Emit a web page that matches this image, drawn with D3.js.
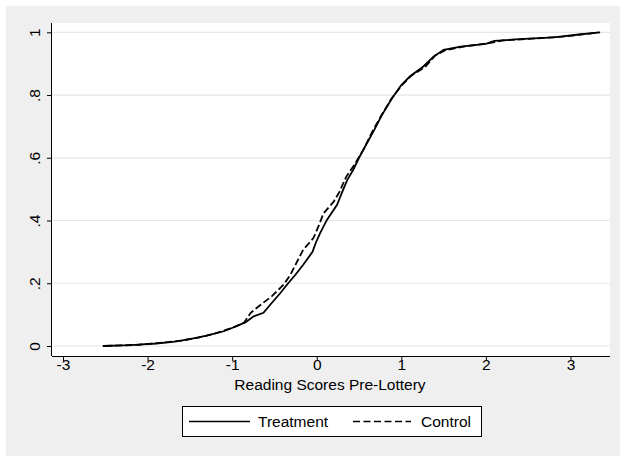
<!DOCTYPE html>
<html lang="en">
<head>
<meta charset="UTF-8">
<title>CDF of Reading Scores Pre-Lottery</title>
<script src="https://d3js.org/d3.v7.min.js"></script>
<style>
    body { margin: 0; background: #fff; }
    svg { display: block; font-family: "Liberation Sans", Arial, sans-serif; }
</style>
</head>
<body>
<svg width="620" height="456"></svg>
<script>
    const treatX = [-2.53, -2.2, -1.9, -1.7, -1.5, -1.3, -1.1, -0.95, -0.84, -0.75, -0.63, -0.53, -0.43, -0.35, -0.25, -0.16, -0.05, -0.01, 0.04, 0.12, 0.24, 0.31, 0.36, 0.43, 0.5, 0.58, 0.68, 0.77, 0.89, 1.0, 1.1, 1.26, 1.38, 1.5, 1.7, 2.0, 2.1, 2.4, 2.8, 3.1, 3.35];
    const treatY = [0, 0.003, 0.008, 0.013, 0.022, 0.033, 0.047, 0.063, 0.076, 0.094, 0.106, 0.138, 0.169, 0.196, 0.228, 0.259, 0.3, 0.33, 0.36, 0.402, 0.45, 0.497, 0.529, 0.561, 0.6, 0.64, 0.689, 0.736, 0.79, 0.832, 0.859, 0.891, 0.922, 0.944, 0.954, 0.963, 0.973, 0.978, 0.984, 0.993, 1.0];

    const ctrlX = [-2.5, -2.1, -1.85, -1.6, -1.4, -1.2, -1.0, -0.86, -0.78, -0.67, -0.53, -0.39, -0.31, -0.24, -0.16, -0.04, 0.02, 0.08, 0.2, 0.27, 0.33, 0.35, 0.45, 0.55, 0.66, 0.76, 0.88, 1.0, 1.12, 1.28, 1.4, 1.52, 1.75, 2.05, 2.2, 2.5, 2.9, 3.2, 3.33];
    const ctrlY = [0, 0.004, 0.01, 0.017, 0.027, 0.04, 0.058, 0.074, 0.106, 0.13, 0.159, 0.196, 0.228, 0.265, 0.307, 0.344, 0.381, 0.423, 0.46, 0.492, 0.529, 0.54, 0.58, 0.625, 0.685, 0.733, 0.787, 0.83, 0.862, 0.889, 0.926, 0.943, 0.955, 0.966, 0.974, 0.979, 0.986, 0.995, 1.0];

    const xTicks = [-3, -2, -1, 0, 1, 2, 3];
    const yTicks = [0, 0.2, 0.4, 0.6, 0.8, 1];
    const yTickLabels = ["0", ".2", ".4", ".6", ".8", "1"];
    const legendNames = ["Treatment", "Control"];

    const FONT = "'Liberation Sans', Arial, sans-serif";
    const FS = 15.5;

    const svg = d3.select("svg");

    // outer stata-style grey panel
    svg.append("rect")
        .attr("x", 6).attr("y", 6)
        .attr("width", 614).attr("height", 450)
        .attr("fill", "#efefef");

    const pLeft = 52, pRight = 610, pTop = 23, pBottom = 356;

    svg.append("rect")
        .attr("x", pLeft).attr("y", pTop)
        .attr("width", pRight - pLeft).attr("height", pBottom - pTop)
        .attr("fill", "#fff");

    const x = d3.scaleLinear().domain([-3, 3]).range([63, 570.5]);
    const y = d3.scaleLinear().domain([0, 1]).range([346, 32.3]);

    // gridlines
    svg.append("g")
        .selectAll("line")
        .data(yTicks)
        .enter()
        .append("line")
        .attr("x1", pLeft).attr("x2", pRight)
        .attr("y1", d => y(d)).attr("y2", d => y(d))
        .attr("stroke", "#e6e6e6")
        .attr("stroke-width", 1.2);

    // axes
    const xAxis = svg.append("g")
        .attr("transform", `translate(0,${pBottom})`)
        .call(d3.axisBottom(x).tickValues(xTicks).tickSize(5).tickSizeOuter(0).tickFormat(d => String(d)))
        .attr("font-family", FONT).attr("font-size", FS);
    xAxis.select(".domain").attr("d", `M${pLeft},0.5H${pRight}`).attr("stroke", "#000");
    xAxis.selectAll(".tick text").attr("fill", "#000").attr("y", 14).attr("dy", 0);

    const yAxis = svg.append("g")
        .attr("transform", `translate(${pLeft},0)`)
        .call(d3.axisLeft(y).tickValues(yTicks).tickSize(5).tickSizeOuter(0).tickFormat((d, i) => yTickLabels[i]))
        .attr("font-family", FONT).attr("font-size", FS);
    yAxis.select(".domain").attr("d", `M-0.5,${pTop}V${pBottom}`).attr("stroke", "#000");
    yAxis.selectAll(".tick text")
        .attr("fill", "#000")
        .attr("x", 0).attr("dy", 0)
        .attr("text-anchor", "middle")
        .attr("transform", "translate(-12,0) rotate(-90)");

    // curves
    const line = d3.line().x(d => x(d[0])).y(d => y(d[1]));
    const treat = treatX.map((v, i) => [v, treatY[i]]);
    const ctrl = ctrlX.map((v, i) => [v, ctrlY[i]]);

    svg.append("path")
        .attr("d", line(ctrl))
        .attr("fill", "none")
        .attr("stroke", "#000")
        .attr("stroke-width", 1.8)
        .attr("stroke-dasharray", "7,3");

    svg.append("path")
        .attr("d", line(treat))
        .attr("fill", "none")
        .attr("stroke", "#000")
        .attr("stroke-width", 1.8);

    // axis title
    svg.append("text")
        .attr("x", 330).attr("y", 390)
        .attr("text-anchor", "middle")
        .attr("font-size", FS)
        .text("Reading Scores Pre-Lottery");

    // legend
    const lg = svg.append("g");
    lg.append("rect")
        .attr("x", 182.5).attr("y", 406.5)
        .attr("width", 299).attr("height", 30)
        .attr("fill", "#fff").attr("stroke", "#000");
    lg.append("line")
        .attr("x1", 189).attr("x2", 250).attr("y1", 421.5).attr("y2", 421.5)
        .attr("stroke", "#000").attr("stroke-width", 1.6);
    lg.append("text")
        .attr("x", 258).attr("y", 427).attr("font-size", FS)
        .text(legendNames[0]);
    lg.append("line")
        .attr("x1", 353).attr("x2", 411).attr("y1", 421.5).attr("y2", 421.5)
        .attr("stroke", "#000").attr("stroke-width", 1.6)
        .attr("stroke-dasharray", "7,3.5");
    lg.append("text")
        .attr("x", 421).attr("y", 427).attr("font-size", FS)
        .text(legendNames[1]);
</script>
</body>
</html>
